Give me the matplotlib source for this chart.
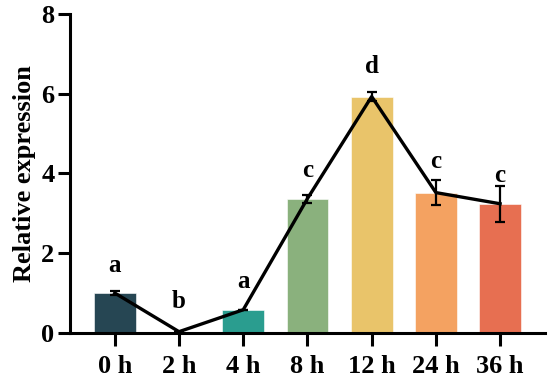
import numpy as np
import matplotlib
matplotlib.use("Agg")
import matplotlib.pyplot as plt

plt.rcParams['font.family'] = ['Liberation Serif', 'DejaVu Serif']
plt.rcParams['font.weight'] = 'bold'

# data
times = ["0 h", "2 h", "4 h", "8 h", "12 h", "24 h", "36 h"]
expr = [1.0, 0.03, 0.58, 3.37, 5.93, 3.52, 3.24]
err = [0.05, 0.0, 0.0, 0.1, 0.12, 0.31, 0.45]
letters = ["a", "b", "a", "c", "d", "c", "c"]
colors = ["#264653", "#287271", "#2a9d8f", "#8ab17d", "#e9c46a", "#f4a261", "#e76f51"]

fig = plt.figure(figsize=(5.5, 3.8), dpi=100)
ax = fig.add_axes([0.127, 0.124, 0.864, 0.839])

x = np.arange(len(times))
ax.bar(x, expr, width=0.65, color=colors, edgecolor="white", linewidth=0.4, zorder=2)
ax.errorbar(x, expr, yerr=err, fmt="none", ecolor="black", elinewidth=1.6,
            capsize=3.5, capthick=1.6, zorder=3)
ax.plot(x, expr, color="black", linewidth=2.4, zorder=4)

# significance letters above the error bars
offsets = [0.48, 0.6, 0.55, 0.44, 0.47, 0.31, 0.1]
for xi, m, e, lab, off in zip(x, expr, err, letters, offsets):
    ax.text(xi, m + e + off, lab, ha="center", va="baseline",
            fontsize=18, fontweight="bold")

ax.set_xlim(-0.7, 6.7)
ax.set_ylim(0, 8)
ax.set_yticks([0, 2, 4, 6, 8])
ax.set_xticks(x)
ax.set_xticklabels(times)
ax.set_ylabel("Relative expression", fontsize=19, fontweight="bold", labelpad=4)

for s in ["top", "right"]:
    ax.spines[s].set_visible(False)
for s in ["left", "bottom"]:
    ax.spines[s].set_linewidth(2.2)
ax.tick_params(axis="both", width=2.2, length=9, labelsize=19)
ax.tick_params(axis="x", pad=7)
ax.tick_params(axis="y", pad=2)
for lbl in ax.get_xticklabels() + ax.get_yticklabels():
    lbl.set_fontweight("bold")

fig.savefig("out.png", dpi=100)
